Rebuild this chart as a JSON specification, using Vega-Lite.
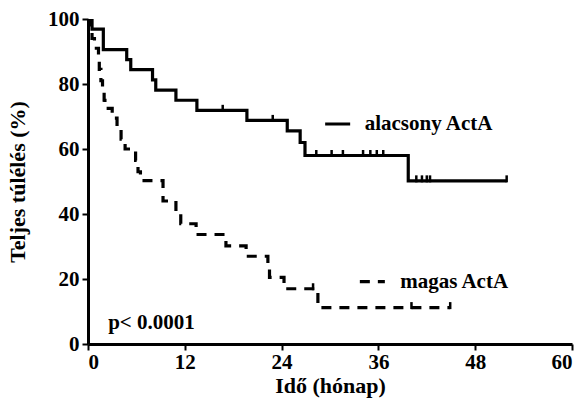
{
  "$schema": "https://vega.github.io/schema/vega-lite/v6.json",
  "autosize": "none",
  "width": 484,
  "height": 325,
  "padding": {"left": 88, "top": 19, "right": 13, "bottom": 68},
  "background": "white",
  "config": {
    "view": {"stroke": null},
    "font": "Liberation Serif",
    "axis": {
      "grid": false,
      "domainColor": "black",
      "domainWidth": 3,
      "tickColor": "black",
      "tickWidth": 2,
      "tickSize": 6,
      "labelFont": "Liberation Serif",
      "labelFontWeight": "bold",
      "labelFontSize": 21,
      "labelColor": "black",
      "titleFont": "Liberation Serif",
      "titleFontWeight": "bold",
      "titleFontSize": 22,
      "titleColor": "black"
    }
  },
  "datasets": {
    "curves": [
      {"group": "alacsony ActA", "t": 0, "s": 100},
      {"group": "alacsony ActA", "t": 0.5, "s": 96.9},
      {"group": "alacsony ActA", "t": 1.9, "s": 90.6},
      {"group": "alacsony ActA", "t": 4.8, "s": 87.5},
      {"group": "alacsony ActA", "t": 5.3, "s": 84.4},
      {"group": "alacsony ActA", "t": 8.0, "s": 81.3},
      {"group": "alacsony ActA", "t": 8.4, "s": 78.1},
      {"group": "alacsony ActA", "t": 10.9, "s": 75.0},
      {"group": "alacsony ActA", "t": 13.5, "s": 71.9},
      {"group": "alacsony ActA", "t": 19.7, "s": 68.8},
      {"group": "alacsony ActA", "t": 24.7, "s": 65.6},
      {"group": "alacsony ActA", "t": 26.3, "s": 62.0},
      {"group": "alacsony ActA", "t": 26.9, "s": 58.0},
      {"group": "alacsony ActA", "t": 39.7, "s": 50.2},
      {"group": "alacsony ActA", "t": 51.9, "s": 50.2},
      {"group": "magas ActA", "t": 0, "s": 100},
      {"group": "magas ActA", "t": 0.3, "s": 97},
      {"group": "magas ActA", "t": 0.5, "s": 94},
      {"group": "magas ActA", "t": 0.8, "s": 91},
      {"group": "magas ActA", "t": 1.3, "s": 88},
      {"group": "magas ActA", "t": 1.4, "s": 84.5},
      {"group": "magas ActA", "t": 1.6, "s": 81},
      {"group": "magas ActA", "t": 1.8, "s": 78},
      {"group": "magas ActA", "t": 2.0, "s": 75},
      {"group": "magas ActA", "t": 2.1, "s": 72.5},
      {"group": "magas ActA", "t": 3.0, "s": 69.5},
      {"group": "magas ActA", "t": 3.6, "s": 67},
      {"group": "magas ActA", "t": 4.1, "s": 63},
      {"group": "magas ActA", "t": 4.6, "s": 60},
      {"group": "magas ActA", "t": 5.9, "s": 56.5},
      {"group": "magas ActA", "t": 6.2, "s": 53},
      {"group": "magas ActA", "t": 6.5, "s": 50.3},
      {"group": "magas ActA", "t": 9.3, "s": 44},
      {"group": "magas ActA", "t": 10.9, "s": 40},
      {"group": "magas ActA", "t": 11.5, "s": 37},
      {"group": "magas ActA", "t": 13.4, "s": 33.7},
      {"group": "magas ActA", "t": 17.1, "s": 30.2},
      {"group": "magas ActA", "t": 19.6, "s": 27.0},
      {"group": "magas ActA", "t": 22.3, "s": 24},
      {"group": "magas ActA", "t": 22.5, "s": 20.5},
      {"group": "magas ActA", "t": 24.3, "s": 17},
      {"group": "magas ActA", "t": 28.5, "s": 11.2},
      {"group": "magas ActA", "t": 44.9, "s": 11.2}
    ],
    "censored": [
      {"group": "alacsony ActA", "t": 16.7, "s": 71.9},
      {"group": "alacsony ActA", "t": 22.9, "s": 68.8},
      {"group": "alacsony ActA", "t": 28.3, "s": 58.0},
      {"group": "alacsony ActA", "t": 30.2, "s": 58.0},
      {"group": "alacsony ActA", "t": 31.6, "s": 58.0},
      {"group": "alacsony ActA", "t": 34.1, "s": 58.0},
      {"group": "alacsony ActA", "t": 35.0, "s": 58.0},
      {"group": "alacsony ActA", "t": 35.8, "s": 58.0},
      {"group": "alacsony ActA", "t": 36.6, "s": 58.0},
      {"group": "alacsony ActA", "t": 40.7, "s": 50.2},
      {"group": "alacsony ActA", "t": 41.4, "s": 50.2},
      {"group": "alacsony ActA", "t": 42.0, "s": 50.2},
      {"group": "alacsony ActA", "t": 42.4, "s": 50.2},
      {"group": "alacsony ActA", "t": 51.9, "s": 50.2},
      {"group": "magas ActA", "t": 27.9, "s": 17},
      {"group": "magas ActA", "t": 40.1, "s": 11.2},
      {"group": "magas ActA", "t": 44.9, "s": 11.2}
    ],
    "keys": [
      {"group": "alacsony ActA", "x1": 29.4, "x2": 32.5, "tx": 34.3, "y": 67.7},
      {"group": "magas ActA", "x1": 33.7, "x2": 36.8, "tx": 38.7, "y": 19.2}
    ],
    "notes": [
      {"label": "p< 0.0001", "t": 2.5, "s": 6.5}
    ]
  },
  "layer": [
    {
      "data": {"name": "curves"},
      "mark": {"type": "line", "interpolate": "step-after", "strokeWidth": 3.2, "color": "black", "clip": true},
      "encoding": {
        "x": {"field": "t", "type": "quantitative",
              "scale": {"domain": [0, 60], "nice": false},
              "axis": {"values": [0, 12, 24, 36, 48, 60], "title": "Idő (hónap)", "labelPadding": 1, "titlePadding": 3}},
        "y": {"field": "s", "type": "quantitative",
              "scale": {"domain": [0, 100], "nice": false},
              "axis": {"values": [0, 20, 40, 60, 80, 100], "title": "Teljes túlélés (%)", "labelPadding": 3, "titlePadding": 18}},
        "strokeDash": {"field": "group", "type": "nominal",
                       "scale": {"domain": ["alacsony ActA", "magas ActA"], "range": [[1, 0], [10, 8]]},
                       "legend": null}
      }
    },
    {
      "data": {"name": "censored"},
      "mark": {"type": "tick", "orient": "vertical", "size": 7, "thickness": 2.5, "color": "black", "opacity": 1, "yOffset": -2},
      "encoding": {
        "x": {"field": "t", "type": "quantitative"},
        "y": {"field": "s", "type": "quantitative"}
      }
    },
    {
      "data": {"name": "keys"},
      "mark": {"type": "rule", "strokeWidth": 3.2, "color": "black"},
      "encoding": {
        "x": {"field": "x1", "type": "quantitative"},
        "x2": {"field": "x2"},
        "y": {"field": "y", "type": "quantitative"},
        "strokeDash": {"field": "group", "type": "nominal",
                       "scale": {"domain": ["alacsony ActA", "magas ActA"], "range": [[1, 0], [10, 8]]},
                       "legend": null}
      }
    },
    {
      "data": {"name": "keys"},
      "mark": {"type": "text", "align": "left", "baseline": "middle", "font": "Liberation Serif", "fontWeight": "bold", "fontSize": 21, "color": "black"},
      "encoding": {
        "x": {"field": "tx", "type": "quantitative"},
        "y": {"field": "y", "type": "quantitative"},
        "text": {"field": "group"}
      }
    },
    {
      "data": {"name": "notes"},
      "mark": {"type": "text", "align": "left", "baseline": "middle", "font": "Liberation Serif", "fontWeight": "bold", "fontSize": 21, "color": "black"},
      "encoding": {
        "x": {"field": "t", "type": "quantitative"},
        "y": {"field": "s", "type": "quantitative"},
        "text": {"field": "label"}
      }
    }
  ]
}
